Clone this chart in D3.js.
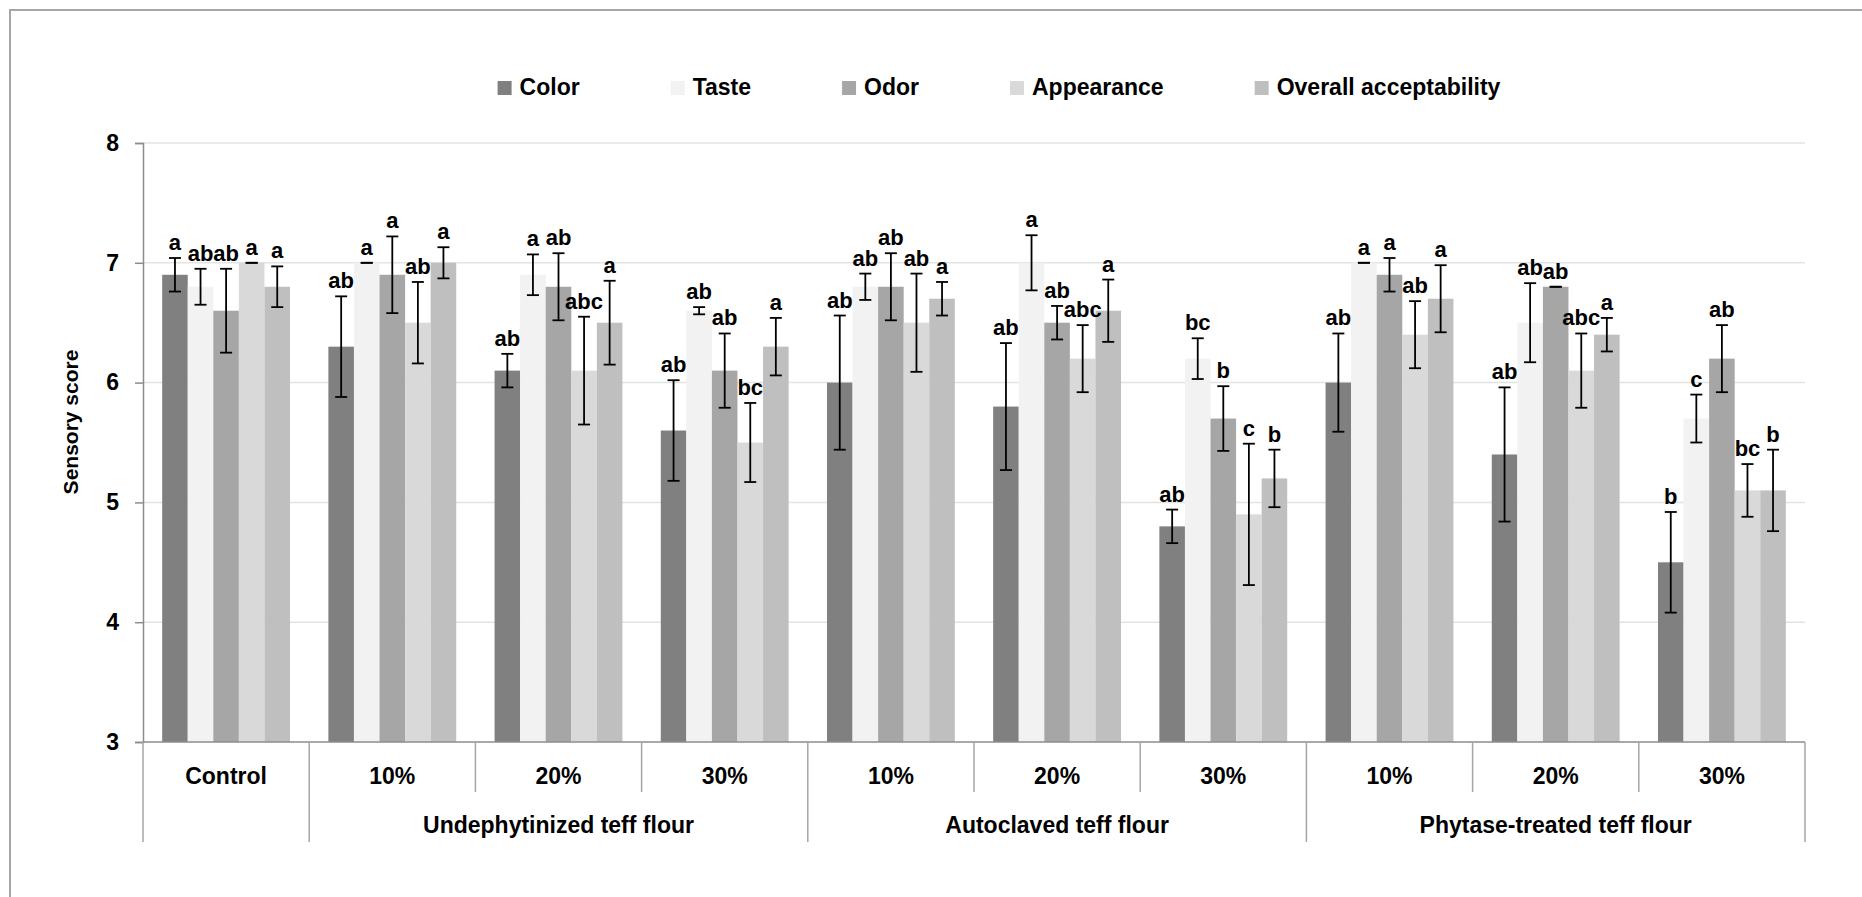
<!DOCTYPE html>
<html>
<head>
<meta charset="utf-8">
<script src="https://cdn.jsdelivr.net/npm/d3@7"></script>
<style>
  body { margin: 0; background: #fff; }
  text { font-family: 'Liberation Sans', Arial, sans-serif; font-weight: bold; fill: #000; }
</style>
</head>
<body>
<div id="viz"></div>
<script>
const width = 1862;
const height = 897;
const margin = {top: 143, right: 57, bottom: 155, left: 143};

// Data
const treatments = ['Control', '10%', '20%', '30%', '10%', '20%', '30%', '10%', '20%', '30%'];
const groupNames = ['Undephytinized teff flour', 'Autoclaved teff flour', 'Phytase-treated teff flour'];
const groupOf = [null, 0, 0, 0, 1, 1, 1, 2, 2, 2];
const series = ['Color', 'Taste', 'Odor', 'Appearance', 'Overall acceptability'];
const yTicks = [3, 4, 5, 6, 7, 8];

const color = [6.9, 6.3, 6.1, 5.6, 6.0, 5.8, 4.8, 6.0, 5.4, 4.5];
const taste = [6.8, 7.0, 6.9, 6.6, 6.8, 7.0, 6.2, 7.0, 6.5, 5.7];
const odor = [6.6, 6.9, 6.8, 6.1, 6.8, 6.5, 5.7, 6.9, 6.8, 6.2];
const appearance = [7.0, 6.5, 6.1, 5.5, 6.5, 6.2, 4.9, 6.4, 6.1, 5.1];
const overall = [6.8, 7.0, 6.5, 6.3, 6.7, 6.6, 5.2, 6.7, 6.4, 5.1];

const colorSd = [0.14, 0.42, 0.14, 0.42, 0.56, 0.53, 0.14, 0.41, 0.56, 0.42];
const tasteSd = [0.15, 0.0, 0.17, 0.03, 0.11, 0.23, 0.17, 0.0, 0.33, 0.2];
const odorSd = [0.35, 0.32, 0.28, 0.31, 0.28, 0.14, 0.27, 0.14, 0.0, 0.28];
const appearanceSd = [0.0, 0.34, 0.45, 0.33, 0.41, 0.28, 0.59, 0.28, 0.31, 0.22];
const overallSd = [0.17, 0.13, 0.35, 0.24, 0.14, 0.26, 0.24, 0.28, 0.14, 0.34];

const colorSig = ['a', 'ab', 'ab', 'ab', 'ab', 'ab', 'ab', 'ab', 'ab', 'b'];
const tasteSig = ['ab', 'a', 'a', 'ab', 'ab', 'a', 'bc', 'a', 'ab', 'c'];
const odorSig = ['ab', 'a', 'ab', 'ab', 'ab', 'ab', 'b', 'a', 'ab', 'ab'];
const appearanceSig = ['a', 'ab', 'abc', 'bc', 'ab', 'abc', 'c', 'ab', 'abc', 'bc'];
const overallSig = ['a', 'a', 'a', 'a', 'a', 'a', 'b', 'a', 'a', 'b'];

const barColors = ['#808080', '#F2F2F2', '#A6A6A6', '#D9D9D9', '#BFBFBF'];

const valuesBySeries = [color, taste, odor, appearance, overall];
const sdBySeries = [colorSd, tasteSd, odorSd, appearanceSd, overallSd];
const sigBySeries = [colorSig, tasteSig, odorSig, appearanceSig, overallSig];

// flat list of bars
const bars = [];
treatments.forEach((t, i) => {
  series.forEach((s, j) => {
    bars.push({cat: i, series: s, si: j, value: valuesBySeries[j][i], sd: sdBySeries[j][i], sig: sigBySeries[j][i]});
  });
});

const svg = d3.select('#viz')
  .append('svg')
    .attr('width', width)
    .attr('height', height);

// outer frame (only top and left edges are inside the picture)
svg.append('path')
  .attr('d', `M10,${height} V10 H${width}`)
  .attr('fill', 'none')
  .attr('stroke', '#a6a6a6')
  .attr('stroke-width', 2);

const xScale = d3.scaleBand()
  .domain(d3.range(treatments.length))
  .range([margin.left, width - margin.right])
  .paddingInner(0)
  .paddingOuter(0);

const xInner = d3.scaleBand()
  .domain(series)
  .range([0, xScale.bandwidth()])
  .paddingInner(0)
  .paddingOuter(0.75);

const yScale = d3.scaleLinear()
  .domain([3, 8])
  .range([height - margin.bottom, margin.top]);

// gridlines
svg.append('g')
  .selectAll('line')
  .data(yTicks.filter(d => d > 3))
  .join('line')
    .attr('x1', margin.left)
    .attr('x2', width - margin.right)
    .attr('y1', d => yScale(d))
    .attr('y2', d => yScale(d))
    .attr('stroke', '#e3e3e3')
    .attr('stroke-width', 1.5);

// y axis
const yAxis = svg.append('g')
  .attr('transform', `translate(${margin.left}, 0)`)
  .call(d3.axisLeft(yScale).tickValues(yTicks).tickSize(8).tickPadding(16).tickFormat(d3.format('d')));
yAxis.select('.domain').attr('stroke', '#8c8c8c').attr('stroke-width', 1.5);
yAxis.selectAll('.tick line').attr('stroke', '#8c8c8c').attr('stroke-width', 1.5);
yAxis.selectAll('.tick text')
  .attr('font-size', 23)
  .attr('font-family', "'Liberation Sans', Arial, sans-serif")
  .attr('font-weight', 'bold')
  .attr('fill', '#000');

svg.append('text')
  .attr('transform', 'translate(78, 422) rotate(-90)')
  .attr('text-anchor', 'middle')
  .style('font-size', '21px')
  .text('Sensory score');

// bars
const barG = svg.append('g');
barG.selectAll('rect')
  .data(bars)
  .join('rect')
    .attr('x', d => xScale(d.cat) + xInner(d.series))
    .attr('y', d => yScale(d.value))
    .attr('width', xInner.bandwidth())
    .attr('height', d => yScale(3) - yScale(d.value))
    .attr('fill', d => barColors[d.si]);

// error bars
const capHalf = 6;
const errG = svg.append('g')
  .attr('stroke', '#000')
  .attr('stroke-width', 1.8);
bars.forEach(d => {
  const cx = xScale(d.cat) + xInner(d.series) + xInner.bandwidth() / 2;
  const yTop = yScale(d.value + d.sd);
  const yBot = yScale(d.value - d.sd);
  errG.append('line').attr('x1', cx).attr('x2', cx).attr('y1', yTop).attr('y2', yBot);
  errG.append('line').attr('x1', cx - capHalf).attr('x2', cx + capHalf).attr('y1', yTop).attr('y2', yTop);
  errG.append('line').attr('x1', cx - capHalf).attr('x2', cx + capHalf).attr('y1', yBot).attr('y2', yBot);
});

// significance letters
svg.append('g')
  .selectAll('text')
  .data(bars)
  .join('text')
    .attr('x', d => xScale(d.cat) + xInner(d.series) + xInner.bandwidth() / 2)
    .attr('y', d => yScale(d.value + d.sd) - 8)
    .attr('text-anchor', 'middle')
    .attr('font-size', 22)
    .text(d => d.sig);

// x axis line + category dividers
const axisY = yScale(3);
svg.append('line')
  .attr('x1', margin.left)
  .attr('x2', width - margin.right)
  .attr('y1', axisY)
  .attr('y2', axisY)
  .attr('stroke', '#8c8c8c')
  .attr('stroke-width', 1.5);

const dividers = d3.range(treatments.length + 1);
svg.append('g')
  .selectAll('line')
  .data(dividers)
  .join('line')
    .attr('x1', i => i < treatments.length ? xScale(i) : width - margin.right)
    .attr('x2', i => i < treatments.length ? xScale(i) : width - margin.right)
    .attr('y1', axisY)
    .attr('y2', i => (i === treatments.length || i === 0 || groupOf[i] !== groupOf[i - 1]) ? axisY + 100 : axisY + 50)
    .attr('stroke', '#a6a6a6')
    .attr('stroke-width', 1.5);

svg.append('g')
  .selectAll('text')
  .data(treatments)
  .join('text')
    .attr('x', (d, i) => xScale(i) + xScale.bandwidth() / 2)
    .attr('y', axisY + 42)
    .attr('text-anchor', 'middle')
    .attr('font-size', 23)
    .text(d => d);

svg.append('g')
  .selectAll('text')
  .data(groupNames)
  .join('text')
    .attr('x', (d, g) => {
      const idx = groupOf.map((v, i) => v === g ? i : -1).filter(i => i >= 0);
      return (xScale(idx[0]) + xScale(idx[idx.length - 1]) + xScale.bandwidth()) / 2;
    })
    .attr('y', axisY + 91)
    .attr('text-anchor', 'middle')
    .attr('font-size', 23)
    .text(d => d);

// legend
const swatch = 14;
const legendCenter = 999;
const legendY = 95;
const legend = svg.append('g');
let lx = 0;
series.forEach((s, j) => {
  const item = legend.append('g').attr('transform', `translate(${lx}, 0)`);
  item.append('rect')
    .attr('x', 0)
    .attr('y', legendY - swatch)
    .attr('width', swatch)
    .attr('height', swatch)
    .attr('fill', barColors[j]);
  const t = item.append('text')
    .attr('x', swatch + 8)
    .attr('y', legendY)
    .attr('font-size', 23)
    .text(s);
  lx += swatch + 8 + t.node().getComputedTextLength() + 91;
});
const legendWidth = lx - 91;
legend.attr('transform', `translate(${legendCenter - legendWidth / 2}, 0)`);
</script>
</body>
</html>
